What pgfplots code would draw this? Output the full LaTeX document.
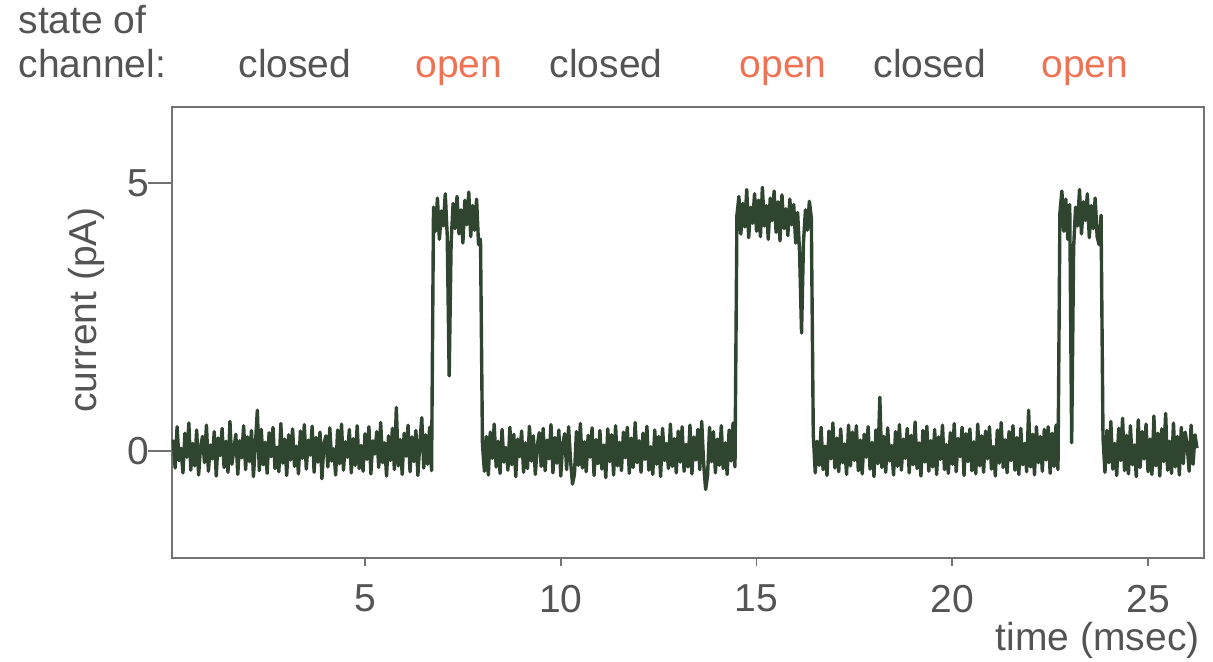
\documentclass[border=0pt]{standalone}
\usepackage{fontspec}
\setmainfont{Liberation Sans}
\usepackage{pgfplots}
\pgfplotsset{compat=1.18}
\definecolor{trace}{rgb}{0.19,0.27,0.19}
\definecolor{txt}{rgb}{0.33,0.33,0.33}
\definecolor{opn}{rgb}{0.93,0.45,0.33}
\definecolor{axc}{rgb}{0.45,0.45,0.45}
\begin{document}
\begin{tikzpicture}
\begin{axis}[name=ax, scale only axis, width=516pt, height=225.5pt,
 xmin=0.07, xmax=26.43, ymin=-2.0, ymax=6.42,
 axis line style={axc, line width=0.9pt},
 tick align=outside, xtick pos=left, ytick pos=left,
 major tick length=4pt,
 xtick={5,10,15,20,25}, ytick={0,5},
 xtick style={axc, line width=0.8pt},
 ytick style={draw=none},
 ticklabel style={font=\fontsize{19.5}{22}\selectfont, text=txt},
 xticklabel style={yshift=-6pt},
 yticklabel style={xshift=-4pt},
 /pgf/number format/assume math mode=true,
 clip=false]
\addplot[trace, line width=1.7pt, line join=round] table[row sep=\\, x expr=0.1+\coordindex*0.05, y=y]{
y\\
0.21\\ -0.32\\ 0.45\\ -0.18\\ 0.05\\ -0.41\\ 0.33\\ -0.12\\ 0.52\\ -0.36\\ 0.14\\ -0.28\\ 0.39\\ -0.45\\ 0.08\\ 0.27\\ -0.22\\ 0.48\\ -0.38\\ 0.11\\
-0.15\\ 0.36\\ -0.47\\ 0.24\\ -0.09\\ 0.42\\ -0.31\\ 0.18\\ -0.40\\ 0.55\\ -0.25\\ 0.02\\ 0.31\\ -0.44\\ 0.19\\ -0.13\\ 0.47\\ -0.35\\ 0.26\\ -0.20\\
0.38\\ -0.48\\ 0.12\\ 0.76\\ -0.37\\ 0.40\\ -0.26\\ 0.16\\ -0.42\\ 0.34\\ -0.11\\ 0.44\\ -0.33\\ 0.07\\ -0.39\\ 0.51\\ -0.23\\ 0.22\\ -0.46\\ 0.30\\
-0.17\\ 0.41\\ -0.29\\ 0.09\\ -0.43\\ 0.37\\ -0.14\\ 0.49\\ -0.34\\ 0.20\\ -0.08\\ 0.46\\ -0.40\\ 0.25\\ -0.21\\ 0.35\\ -0.52\\ 0.13\\ 0.28\\ -0.30\\
0.43\\ -0.19\\ 0.04\\ -0.45\\ 0.39\\ -0.24\\ 0.50\\ -0.36\\ 0.17\\ -0.12\\ 0.40\\ -0.41\\ 0.23\\ -0.27\\ 0.47\\ -0.33\\ 0.10\\ -0.38\\ 0.32\\ -0.16\\
0.45\\ -0.43\\ 0.19\\ -0.06\\ 0.36\\ -0.31\\ 0.53\\ -0.22\\ 0.15\\ -0.47\\ 0.28\\ -0.18\\ 0.42\\ -0.35\\ 0.81\\ -0.28\\ 0.21\\ -0.44\\ 0.33\\ -0.10\\
0.48\\ -0.39\\ 0.26\\ -0.20\\ 0.38\\ -0.46\\ 0.14\\ 0.62\\ -0.32\\ 0.30\\ -0.25\\ 0.44\\ -0.37\\
4.55\\ 4.10\\ 4.72\\ 3.95\\ 4.48\\ 4.20\\ 4.80\\ 4.02\\ 1.40\\ 3.90\\ 4.62\\ 4.15\\ 4.75\\ 4.05\\ 4.50\\ 3.88\\ 4.68\\ 4.22\\ 4.83\\ 4.00\\
4.58\\ 4.12\\ 4.70\\ 3.85\\ 3.95\\
0.12\\ -0.38\\ 0.27\\ -0.45\\ 0.35\\ -0.14\\ 0.50\\ -0.30\\ 0.18\\ -0.42\\ 0.40\\ -0.21\\ 0.06\\ -0.36\\ 0.44\\ -0.26\\ 0.31\\ -0.48\\ 0.22\\ -0.11\\
0.37\\ -0.40\\ 0.15\\ -0.33\\ 0.46\\ -0.19\\ 0.28\\ -0.44\\ 0.09\\ 0.34\\ -0.29\\ 0.42\\ -0.37\\ 0.20\\ -0.15\\ 0.49\\ -0.41\\ 0.25\\ -0.23\\ 0.39\\
-0.47\\ 0.13\\ 0.32\\ -0.35\\ 0.45\\ -0.18\\ -0.62\\ -0.43\\ 0.36\\ -0.27\\ 0.51\\ -0.32\\ 0.17\\ -0.39\\ 0.29\\ -0.12\\ 0.43\\ -0.46\\ 0.21\\ -0.24\\
0.38\\ -0.34\\ 0.11\\ -0.50\\ 0.41\\ -0.20\\ 0.30\\ -0.45\\ 0.47\\ -0.28\\ 0.16\\ -0.37\\ 0.35\\ -0.13\\ 0.44\\ -0.42\\ 0.24\\ -0.31\\ 0.53\\ -0.22\\
0.19\\ -0.40\\ 0.33\\ -0.16\\ 0.46\\ -0.36\\ 0.08\\ -0.44\\ 0.39\\ -0.25\\ 0.27\\ -0.48\\ 0.42\\ -0.18\\ 0.14\\ -0.33\\ 0.50\\ -0.29\\ 0.23\\ -0.41\\
0.37\\ -0.21\\ 0.45\\ -0.38\\ 0.12\\ -0.30\\ 0.48\\ -0.43\\ 0.26\\ -0.17\\ 0.40\\ -0.35\\ 0.55\\ -0.24\\ -0.72\\ -0.46\\ 0.44\\ -0.20\\
0.36\\ -0.41\\ 0.22\\ -0.27\\ 0.47\\ -0.33\\ 0.15\\ -0.44\\ 0.39\\ -0.19\\ 0.52\\ -0.30\\
4.40\\ 4.75\\ 4.05\\ 4.62\\ 4.18\\ 4.88\\ 3.98\\ 4.55\\ 4.25\\ 4.80\\ 4.10\\ 4.68\\ 4.00\\ 4.92\\ 4.20\\ 4.58\\ 3.95\\ 4.72\\ 4.30\\ 4.85\\
4.08\\ 4.65\\ 3.92\\ 4.78\\ 4.15\\ 4.52\\ 4.02\\ 4.70\\ 4.22\\ 4.60\\ 3.88\\ 4.45\\ 3.70\\ 2.20\\ 3.90\\ 4.50\\ 4.12\\ 4.66\\ 4.35\\
0.30\\ -0.41\\ 0.18\\ -0.27\\ 0.44\\ -0.35\\ 0.09\\ -0.46\\ 0.37\\ -0.15\\ 0.52\\ -0.32\\ 0.24\\ -0.39\\ 0.41\\ -0.22\\ 0.13\\ -0.44\\ 0.48\\ -0.28\\
0.35\\ -0.18\\ 0.47\\ -0.37\\ 0.20\\ -0.43\\ 0.31\\ -0.12\\ 0.45\\ -0.34\\ 0.16\\ -0.48\\ 0.39\\ -0.24\\ 1.00\\ -0.31\\ 0.27\\ -0.40\\ 0.43\\ -0.19\\
0.10\\ -0.45\\ 0.36\\ -0.29\\ 0.49\\ -0.36\\ 0.22\\ -0.14\\ 0.42\\ -0.41\\ 0.29\\ -0.26\\ 0.54\\ -0.33\\ 0.15\\ -0.47\\ 0.38\\ -0.21\\ 0.46\\ -0.38\\
0.19\\ -0.30\\ 0.40\\ -0.44\\ 0.26\\ -0.16\\ 0.48\\ -0.35\\ 0.12\\ -0.42\\ 0.34\\ -0.25\\ 0.51\\ -0.39\\ 0.23\\ -0.11\\ 0.44\\ -0.46\\ 0.32\\ -0.20\\
0.41\\ -0.37\\ 0.17\\ -0.43\\ 0.50\\ -0.28\\ 0.28\\ -0.40\\ 0.37\\ -0.15\\ 0.45\\ -0.34\\ 0.08\\ -0.47\\ 0.39\\ -0.23\\ 0.53\\ -0.31\\ 0.21\\ -0.41\\
0.36\\ -0.18\\ 0.47\\ -0.36\\ 0.25\\ -0.44\\ 0.42\\ -0.26\\ 0.14\\ -0.39\\ 0.76\\ -0.30\\ 0.31\\ -0.45\\ 0.45\\ -0.22\\ 0.27\\ -0.38\\ 0.40\\ -0.17\\
0.45\\ -0.42\\ 0.33\\ -0.29\\ 0.48\\ -0.35\\
4.45\\ 4.85\\ 4.10\\ 4.70\\ 3.95\\ 4.60\\ 0.15\\ 3.80\\ 4.55\\ 4.20\\ 4.88\\ 4.05\\ 4.65\\ 4.30\\ 4.80\\ 3.98\\ 4.58\\ 4.15\\ 4.72\\ 4.00\\ 3.85\\ 4.40\\
0.25\\ -0.40\\ 0.38\\ -0.22\\ 0.55\\ -0.34\\ 0.14\\ -0.46\\ 0.42\\ -0.18\\ 0.61\\ -0.37\\ 0.29\\ -0.43\\ 0.47\\ -0.26\\ 0.11\\ -0.48\\ 0.58\\ -0.31\\
0.36\\ -0.15\\ 0.50\\ -0.39\\ 0.22\\ -0.44\\ 0.65\\ -0.28\\ 0.33\\ -0.47\\ 0.41\\ -0.20\\ 0.70\\ -0.36\\ 0.18\\ -0.42\\ 0.52\\ -0.30\\ 0.27\\ -0.45\\
0.44\\ -0.24\\ 0.35\\ 0.10\\ -0.38\\ 0.48\\ -0.25\\ 0.30\\ 0.05\\
};
\draw[axc, line width=0.9pt] (axis cs:0.07,5) -- ([xshift=-12pt]axis cs:0.07,5);
\draw[axc, line width=0.9pt] (axis cs:0.07,0) -- ([xshift=-12pt]axis cs:0.07,0);
\begin{scope}[font=\fontsize{19.5}{22}\selectfont]
\node[anchor=base west, text=txt, inner sep=0pt] at (axis cs:-3.86,7.80) {state of};
\node[anchor=base west, text=txt, inner sep=0pt] at (axis cs:-3.86,6.98) {channel:};
\node[anchor=base, text=txt] at (axis cs:3.21,6.98) {closed};
\node[anchor=base, text=opn] at (axis cs:7.40,6.98) {open};
\node[anchor=base, text=txt] at (axis cs:11.16,6.98) {closed};
\node[anchor=base, text=opn] at (axis cs:15.68,6.98) {open};
\node[anchor=base, text=txt] at (axis cs:19.43,6.98) {closed};
\node[anchor=base, text=opn] at (axis cs:23.39,6.98) {open};
\node[anchor=base east, text=txt, inner sep=0pt] at ([xshift=-2pt,yshift=-46pt]rel axis cs:1,0) {time (msec)};
\node[rotate=90, text=txt] at ([xshift=-43pt]axis cs:0.07,2.63) {current (pA)};
\end{scope}
\end{axis}
\pgfresetboundingbox
\path[use as bounding box] ([shift={(-86pt,-52pt)}]ax.south west) rectangle ([shift={(4.5pt,53.5pt)}]ax.north east);
\end{tikzpicture}
\end{document}
